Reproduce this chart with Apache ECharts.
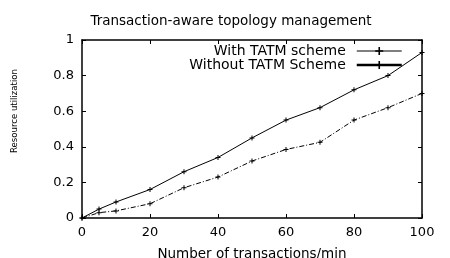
<!DOCTYPE html>
<html><head><meta charset="utf-8">
<script src="https://cdn.jsdelivr.net/npm/echarts@6/dist/echarts.min.js"></script>
<style>html,body{margin:0;padding:0;background:#fff}#c{width:450px;height:258px}</style>
</head><body><div id="c"></div>
<script>
const xValues = [0, 5, 10, 20, 30, 40, 50, 60, 70, 80, 90, 100];
const withTATM = [0, 0.05, 0.09, 0.16, 0.26, 0.34, 0.45, 0.55, 0.62, 0.72, 0.80, 0.93];
const withoutTATM = [0, 0.03, 0.04, 0.08, 0.17, 0.23, 0.32, 0.385, 0.425, 0.55, 0.62, 0.70];
const xTicks = [0, 20, 40, 60, 80, 100];
const yTicks = [0, 0.2, 0.4, 0.6, 0.8, 1];
const seriesNames = ['With TATM scheme', 'Without TATM Scheme'];

const FONT = 'DejaVu Sans';
const plus = 'path://M4,0H6V4H10V6H6V10H4V6H0V4H4Z';
const chart = echarts.init(document.getElementById('c'), null, {renderer: 'canvas'});
const pairs = (ys) => xValues.map((x, i) => [x, ys[i]]);
const axisCommon = {
  axisLine: {show: true, onZero: false, lineStyle: {color: '#000', width: 1.5}},
  axisTick: {show: true, inside: true, length: 4, lineStyle: {color: '#000', width: 1}},
  splitLine: {show: false}
};
chart.setOption({
  animation: false,
  backgroundColor: '#fff',
  title: {
    text: 'Transaction-aware topology management',
    left: 226, textAlign: 'center', top: 9,
    textStyle: {fontFamily: FONT, fontSize: 13.5, fontWeight: 'normal', color: '#000'}
  },
  legend: {
    orient: 'vertical', align: 'right', right: 47, top: 44,
    itemWidth: 45, itemHeight: 10, itemGap: 0, padding: 0,
    textStyle: {fontFamily: FONT, fontSize: 14, lineHeight: 12.5, color: '#000', padding: [0, 6, 0, 0]},
    data: [
      {name: seriesNames[0], lineStyle: {width: 1, type: 'solid'}},
      {name: seriesNames[1], lineStyle: {width: 2.5, type: 'solid'}}
    ]
  },
  grid: {left: 82, right: 28, top: 40, bottom: 40, outerBoundsMode: 'none', containLabel: false},
  xAxis: [
    Object.assign({
      type: 'value', min: 0, max: 100, interval: 20, position: 'bottom',
      name: 'Number of transactions/min', nameLocation: 'middle', nameGap: 29,
      nameTextStyle: {fontFamily: FONT, fontSize: 13.5, color: '#000'},
      axisLabel: {fontFamily: FONT, fontSize: 13, color: '#000', margin: 8}
    }, axisCommon),
    Object.assign({
      type: 'value', min: 0, max: 100, interval: 20, position: 'top',
      axisLabel: {show: false}
    }, axisCommon)
  ],
  yAxis: [
    Object.assign({
      type: 'value', min: 0, max: 1, interval: 0.2, position: 'left',
      axisLabel: {fontFamily: FONT, fontSize: 13, color: '#000', margin: 8,
        formatter: v => String(Math.round(v * 10) / 10)}
    }, axisCommon),
    Object.assign({
      type: 'value', min: 0, max: 1, interval: 0.2, position: 'right',
      axisLabel: {show: false}
    }, axisCommon)
  ],
  graphic: [{
    type: 'text', x: 15, y: 111, rotation: Math.PI / 2,
    style: {text: 'Resource utilization', fontFamily: "'DejaVu Sans Condensed', 'Liberation Sans Narrow', 'DejaVu Sans'",
      fontSize: 9.5, fill: '#000', align: 'center', verticalAlign: 'middle'}
  }],
  series: [
    {
      name: seriesNames[0], type: 'line', data: pairs(withTATM),
      symbol: plus, symbolSize: 5, showSymbol: true,
      lineStyle: {color: '#000', width: 1},
      itemStyle: {color: '#000'}
    },
    {
      name: seriesNames[1], type: 'line', data: pairs(withoutTATM),
      symbol: plus, symbolSize: 5, showSymbol: true,
      lineStyle: {color: '#000', width: 1, type: [5, 2, 1, 2]},
      itemStyle: {color: '#000'}
    }
  ]
});
</script></body></html>
